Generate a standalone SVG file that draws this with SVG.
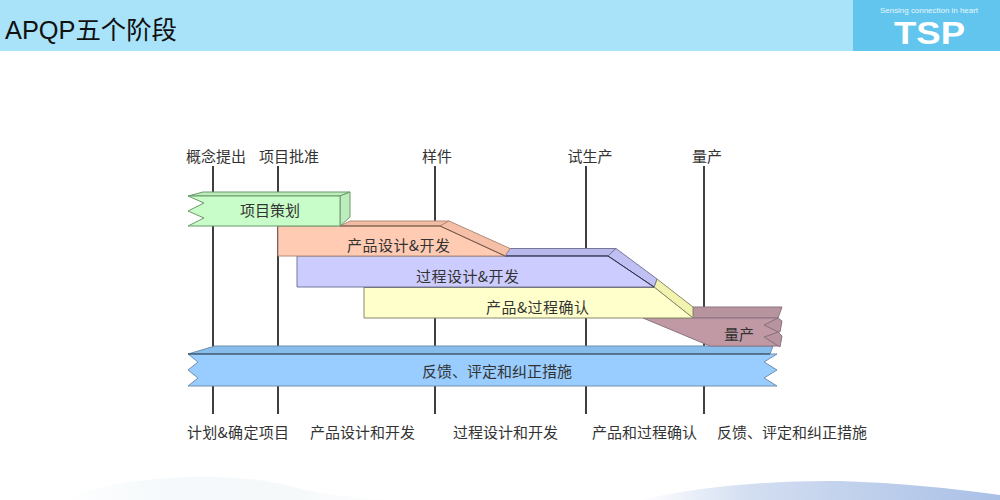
<svg xmlns="http://www.w3.org/2000/svg" width="1000" height="500" viewBox="0 0 1000 500">
<style>
text{font-family:"Liberation Sans","Noto Sans CJK SC",sans-serif;font-size:15px;fill:#333}
.c{text-anchor:middle}
.cjk{font-family:"Noto Sans CJK SC",sans-serif}
.s{stroke-width:1;stroke-linejoin:round}
.ln{stroke:#3f3f3f;stroke-width:2;fill:none}
</style>
<defs>
<linearGradient id="hill" x1="0" y1="0" x2="1" y2="0"><stop offset="0" stop-color="#fff"/><stop offset="0.3" stop-color="#d3def1"/><stop offset="1" stop-color="#a9c0e6"/></linearGradient>
<linearGradient id="hillL" x1="0" y1="0" x2="1" y2="0"><stop offset="0" stop-color="#fff"/><stop offset="0.3" stop-color="#f5f9fb"/><stop offset="0.7" stop-color="#f6f9fa"/><stop offset="1" stop-color="#fff"/></linearGradient>
</defs>
<rect width="1000" height="500" fill="#fff"/>
<g id="background">
<path d="M60 500C110 478 220 468 290 486C320 494 350 498 400 500Z" fill="url(#hillL)"/>
<path d="M640 500C700 486 780 480 840 481C900 483 950 488 1000 495V500Z" fill="url(#hill)"/>
</g>
<g id="header">
<rect width="1000" height="51" fill="#a9e3f9"/>
<rect x="853" width="147" height="51" fill="#62c5ee"/>
<text x="5" y="39" style="font-size:25.500px;fill:#111" textLength="172" lengthAdjust="spacingAndGlyphs">APQP五个阶段</text>
<text x="880" y="13" textLength="98" lengthAdjust="spacingAndGlyphs" style="font-size:8px;fill:#e6f7fd">Sensing connection in heart</text>
<text x="894" y="44" textLength="71" lengthAdjust="spacingAndGlyphs" style="font-size:31px;font-weight:bold;fill:#fff">TSP</text>
</g>
<g id="connectors">
<path class="ln" d="M213 166V414M278 166V414M435 166V414M586 166V414M704 166V414"/>
</g>
<g id="milestones">
<text class="c cjk" x="216" y="162">概念提出</text>
<text class="c cjk" x="289" y="162">项目批准</text>
<text class="c cjk" x="437" y="162">样件</text>
<text class="c cjk" x="590" y="162">试生产</text>
<text class="c cjk" x="707" y="162">量产</text>
</g>
<g id="node-feedback" class="s" stroke="#6f8fae">
<path d="M188 354L215 346H773L770 354Z" fill="#86bdea"/>
<path d="M188 354H777L764 362L777 370L764 378L777 386H188L198 378L188 370L198 362Z" fill="#99ccff"/>
<path d="M188 354H770" stroke="#2c4258" fill="none"/>
<text class="c cjk" x="497" y="377" stroke="none">反馈、评定和纠正措施</text>
</g>
<g id="node-production" class="s" stroke="#8b7480">
<path d="M693 307H782L778 318H693Z" fill="#b8949f"/>
<path d="M778 318L782 321L780 332L778 332L764 325ZM778 332L782 336L780 347L764 337Z" fill="#b8949f"/>
<path d="M643 318H778L764 325L778 332L764 337L778 346H710Z" fill="#c099a5"/>
<text class="c cjk" x="739" y="340" stroke="none">量产</text>
</g>
<g id="node-validation" class="s" stroke="#8a8a6a">
<path d="M654 287L657 279L693 307V318Z" fill="#f3f3b0"/>
<path d="M364 287H654L693 318H364Z" fill="#ffffcc"/>
<path d="M364 287H654" stroke="#2a2a2a" fill="none"/>
<text class="c cjk" x="537.500" y="313" textLength="103" stroke="none">产品&amp;过程确认</text>
</g>
<g id="node-process" class="s" stroke="#77779c">
<path d="M505 256L510 248.500H616L608 256Z" fill="#b9b9ec"/>
<path d="M608 256L616 248.500L657 279L654 287Z" fill="#c0c0f2"/>
<path d="M297 256H608L654 287H297Z" fill="#ccccff"/>
<path d="M505 256H608L654 287" stroke="#2a2a48" fill="none"/>
<text class="c cjk" x="467.500" y="282" textLength="103" stroke="none">过程设计&amp;开发</text>
</g>
<g id="node-design" class="s" stroke="#b08a78">
<path d="M340 226L350 221H449L440 226Z" fill="#f4bca4"/>
<path d="M440 226L449 221L510 248.500L505 256Z" fill="#f6c0a8"/>
<path d="M278 226H440L505 256H278Z" fill="#ffcbb3"/>
<path d="M340 226H440L505 256" stroke="#7b5a4a" fill="none"/>
<text class="c cjk" x="398.500" y="251" textLength="103" stroke="none">产品设计&amp;开发</text>
</g>
<g id="node-planning" class="s" stroke="#6a9a6a">
<path d="M188 196L203 192H350L340 196Z" fill="#bdecbd"/>
<path d="M340 196L350 192V217L340 226Z" fill="#bdecbd"/>
<path d="M188 196H340V226H188L204 218L188 211L204 203Z" fill="#c8fcc8"/>
<text class="c cjk" x="270" y="216" stroke="none">项目策划</text>
</g>
<g id="phases">
<text class="c cjk" x="238" y="438" textLength="102">计划&amp;确定项目</text>
<text class="c cjk" x="362.500" y="438">产品设计和开发</text>
<text class="c cjk" x="505.500" y="438">过程设计和开发</text>
<text class="c cjk" x="644.500" y="438">产品和过程确认</text>
<text class="c cjk" x="792" y="438">反馈、评定和纠正措施</text>
</g>
</svg>
